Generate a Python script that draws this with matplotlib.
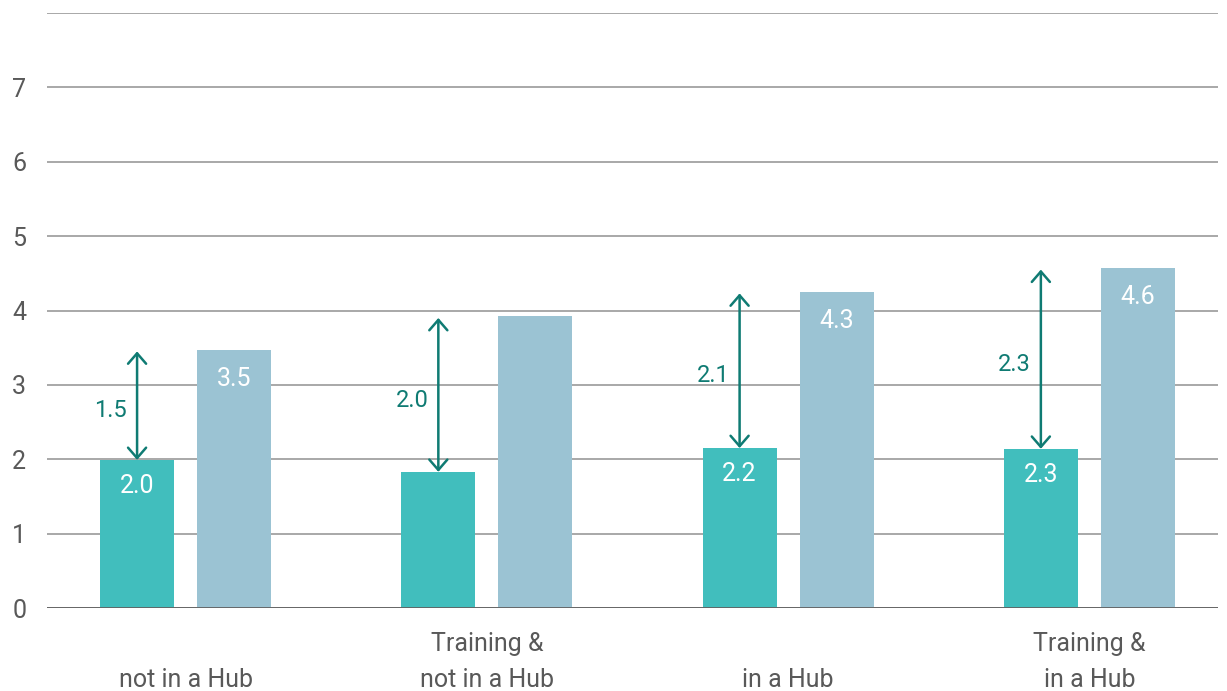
import matplotlib.pyplot as plt
import numpy as np

categories = ['not in a Hub', 'Training &\nnot in a Hub', 'in a Hub', 'Training &\nin a Hub']
teal_values = [1.99, 1.83, 2.15, 2.14]
blue_values = [3.47, 3.92, 4.25, 4.57]
teal_labels = ['2.0', '', '2.2', '2.3']
blue_labels = ['3.5', '', '4.3', '4.6']
gap_labels = ['1.5', '2.0', '2.1', '2.3']

TEAL = '#41bebd'
BLUE = '#9bc3d3'
DARK = '#0f7b73'
GREY = '#595959'

plt.rcParams['font.family'] = ['Roboto', 'DejaVu Sans']

fig = plt.figure(figsize=(12.27, 6.91), dpi=100)
ax = fig.add_axes([47 / 1227, 83 / 691, 1171 / 1227, 595 / 691])

x = np.arange(len(categories))
w = 0.245
off = 0.161

ax.bar(x - off, teal_values, w, color=TEAL, zorder=3)
ax.bar(x + off, blue_values, w, color=BLUE, zorder=3)

for i in range(len(categories)):
    xt = x[i] - off
    xb = x[i] + off
    if teal_labels[i]:
        ax.annotate(teal_labels[i], (xt, teal_values[i]), xytext=(0, -26),
                    textcoords='offset pixels', ha='center', va='center',
                    color='white', fontsize=18, zorder=5)
    if blue_labels[i]:
        ax.annotate(blue_labels[i], (xb, blue_values[i]), xytext=(0, -29),
                    textcoords='offset pixels', ha='center', va='center',
                    color='white', fontsize=18, zorder=5)
    # gap arrow
    ax.annotate('', xy=(xt, blue_values[i] - 0.02), xytext=(xt, teal_values[i]),
                arrowprops=dict(arrowstyle='<->,head_length=0.75,head_width=0.65',
                                color=DARK, lw=1.8, shrinkA=0, shrinkB=0),
                zorder=6)
    mid = (teal_values[i] + blue_values[i]) / 2 - 0.08
    ax.annotate(gap_labels[i], (xt, mid), xytext=(-10, 0),
                textcoords='offset pixels', ha='right', va='center',
                color=DARK, fontsize=17, zorder=6)
    ax.text(x[i], -0.142, categories[i], transform=ax.get_xaxis_transform(),
            ha='center', va='bottom', fontsize=18, color=GREY, linespacing=1.65)

ax.set_xlim(-0.46, 3.427)
ax.set_ylim(0, 8)
ax.set_yticks(range(9))
ax.set_yticklabels([str(v) for v in range(8)] + [''])
ax.set_xticks([])
ax.tick_params(axis='y', length=0, pad=15, labelsize=18, labelcolor=GREY)

ax.grid(axis='y', color='#9a9a9a', lw=1.2, zorder=0)
ax.axhline(0, color='#606060', lw=2, zorder=4)
for s in ax.spines.values():
    s.set_visible(False)

fig.savefig('out.png', dpi=100)
